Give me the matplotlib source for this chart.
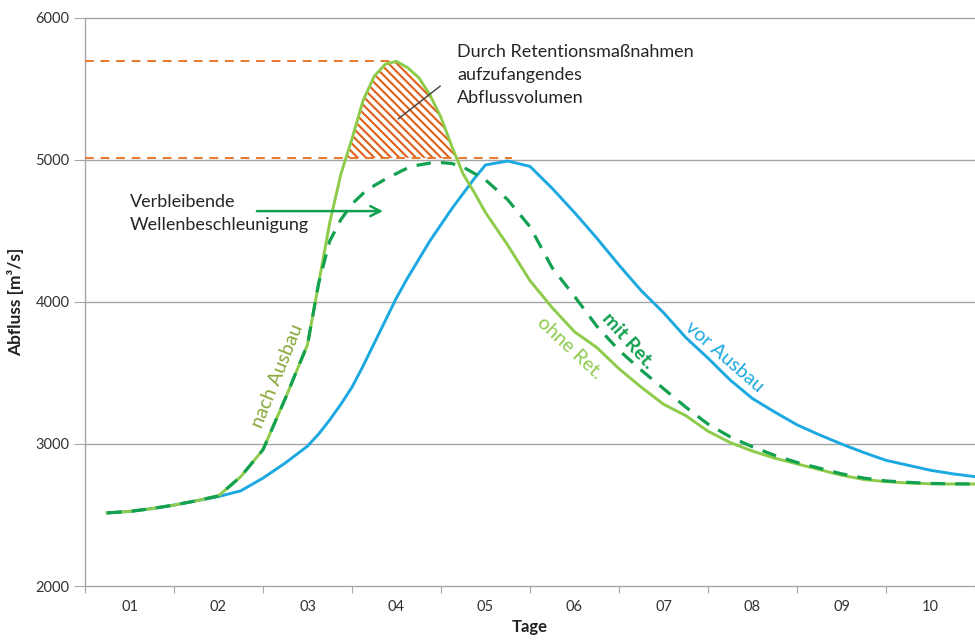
import matplotlib
matplotlib.use("Agg")
import matplotlib.pyplot as plt
import numpy as np

plt.rcParams['font.family'] = ['Lato', 'DejaVu Sans']
plt.rcParams['hatch.linewidth'] = 1.5
plt.rcParams['hatch.color'] = '#E0601A'

# time in days
days = [0.75, 1.0, 1.25, 1.5, 1.75, 2.0, 2.25, 2.5, 2.75, 3.0,
        3.125, 3.25, 3.375, 3.5, 3.625, 3.75, 3.875, 4.0,
        4.125, 4.25, 4.375, 4.5, 4.625, 4.75, 4.875, 5.0,
        5.25, 5.5, 5.75, 6.0, 6.25, 6.5, 6.75, 7.0, 7.25, 7.5,
        7.75, 8.0, 8.25, 8.5, 8.75, 9.0, 9.25, 9.5, 9.75, 10.0,
        10.25, 10.5]

# nach Ausbau / ohne Retention
ohne_ret = [2515, 2525, 2545, 2570, 2600, 2635, 2770, 2960, 3320, 3700,
            4130, 4560, 4900, 5150, 5420, 5590, 5675, 5695,
            5650, 5580, 5460, 5300, 5090, 4900, 4770, 4630,
            4400, 4150, 3960, 3790, 3680, 3530, 3400, 3280, 3200, 3090,
            3010, 2950, 2900, 2860, 2820, 2780, 2750, 2735, 2725, 2720,
            2718, 2718]

# mit Retention
mit_ret = [2515, 2525, 2545, 2570, 2600, 2635, 2770, 2960, 3320, 3700,
           4130, 4430, 4580, 4690, 4765, 4820, 4865, 4905,
           4944, 4965, 4978, 4982, 4975, 4950, 4905, 4860,
           4720, 4530, 4240, 4040, 3830, 3660, 3520, 3390, 3260, 3140,
           3050, 2980, 2920, 2870, 2830, 2790, 2760, 2740, 2730, 2722,
           2720, 2718]

# vor Ausbau
vor_ausbau = [2515, 2525, 2545, 2570, 2600, 2630, 2670, 2760, 2866, 2985,
              3070, 3170, 3280, 3400, 3550, 3710, 3870, 4030,
              4170, 4300, 4430, 4545, 4660, 4765, 4870, 4965,
              4993, 4955, 4800, 4630, 4450, 4260, 4080, 3925, 3750, 3605,
              3450, 3320, 3225, 3135, 3065, 3000, 2940, 2885, 2850, 2815,
              2790, 2770]

day_labels = ['01', '02', '03', '04', '05', '06', '07', '08', '09', '10']
day_pos = [1, 2, 3, 4, 5, 6, 7, 8, 9, 10]
y_ticks = [2000, 3000, 4000, 5000, 6000]

peak_level = 5700
ret_level = 5015

c_light = '#8DCB4A'
c_dark = '#12A150'
c_blue = '#1CA8E0'
c_orange = '#E8782A'
c_olive = '#86A83A'

fig = plt.figure(figsize=(9.75, 6.43), dpi=100)
ax = fig.add_axes([85/975, 57/643, 890/975, 568/643])

ax.set_xlim(0.5, 10.31)
ax.set_ylim(2000, 6000)

# grid
for yv in y_ticks[1:]:
    ax.axhline(yv, color='#A6A6A6', lw=1.0, zorder=0, clip_on=False)

# hatched volume
x_arr = np.array(days)
y_arr = np.array(ohne_ret)
ax.fill_between(x_arr, ret_level, y_arr, where=y_arr > ret_level, interpolate=True,
                facecolor='white', edgecolor='#E0601A', hatch='\\\\\\\\', lw=0, zorder=2)

# orange dashed reference lines
ax.plot([0.5, 3.97], [peak_level, peak_level], color=c_orange, lw=1.4,
        dashes=(4.5, 3.5), zorder=3)
ax.plot([0.5, 5.3], [ret_level, ret_level], color=c_orange, lw=1.4,
        dashes=(4.5, 3.5), zorder=3)

# curves
ax.plot(days, vor_ausbau, color=c_blue, lw=2.1, zorder=4, solid_joinstyle='round')
ax.plot(days, ohne_ret, color=c_light, lw=2.1, zorder=4, solid_joinstyle='round')
ax.plot(days, mit_ret, color=c_dark, lw=2.3, dashes=(4.5, 3.2), zorder=5)

# axes styling
for s in ['top', 'right']:
    ax.spines[s].set_visible(False)
for s in ['left', 'bottom']:
    ax.spines[s].set_color('#A6A6A6')
    ax.spines[s].set_linewidth(1.0)

ax.set_yticks(y_ticks)
ax.set_yticklabels([str(v) for v in y_ticks])
ax.tick_params(axis='y', direction='out', length=8, color='#A6A6A6',
               labelsize=10.5, labelcolor='#333333', pad=3)

ax.set_xticks([b + 0.5 for b in range(0, 11)])
ax.set_xticklabels([])
ax.tick_params(axis='x', which='major', direction='out', length=5, color='#A6A6A6')
ax.set_xticks(day_pos, minor=True)
ax.set_xticklabels(day_labels, minor=True)
ax.tick_params(axis='x', which='minor', length=0, labelsize=10.5,
               labelcolor='#333333', pad=10)

ax.set_ylabel('Abfluss [m³/s]', fontsize=12.5, fontweight='bold', color='#222222', labelpad=8)
ax.set_xlabel('Tage', fontsize=12, fontweight='bold', color='#222222', labelpad=4)

# annotations
ax.text(4.68, 5820, 'Durch Retentionsmaßnahmen\naufzufangendes\nAbflussvolumen',
        fontsize=13, color='#262626', va='top', ha='left', linespacing=1.55, zorder=6)
ax.plot([4.49, 4.02], [5520, 5290], color='#404040', lw=1.0, zorder=6)

ax.text(1.0, 4625, 'Verbleibende\nWellenbeschleunigung', fontsize=13,
        color='#262626', va='center', ha='left', linespacing=1.55, zorder=6)
ax.annotate('', xy=(3.88, 4640), xytext=(2.4, 4640),
            arrowprops=dict(arrowstyle='->', color=c_dark, lw=1.8,
                            mutation_scale=18), zorder=6)

ax.text(2.66, 3480, 'nach Ausbau', fontsize=14, color=c_olive, rotation=68,
        ha='center', va='center', zorder=6)
ax.text(5.95, 3680, 'ohne Ret.', fontsize=14, color=c_light, rotation=-43,
        ha='center', va='center', zorder=6)
ax.text(6.6, 3730, 'mit Ret.', fontsize=14, color=c_dark, rotation=-48,
        ha='center', va='center', fontweight='bold', zorder=6)
ax.text(7.68, 3615, 'vor Ausbau', fontsize=14, color=c_blue, rotation=-41,
        ha='center', va='center', zorder=6)

fig.savefig('out.png', dpi=100)
